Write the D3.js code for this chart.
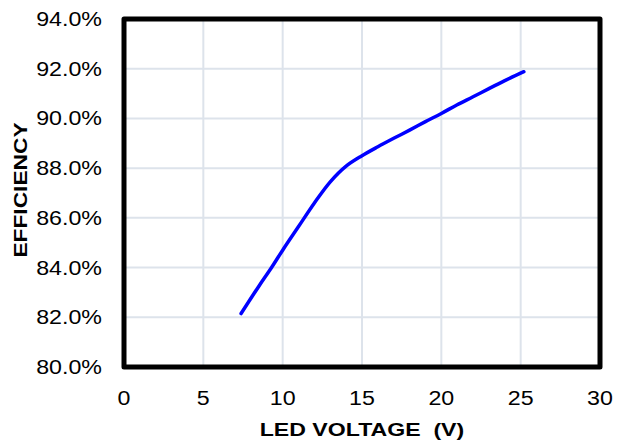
<!DOCTYPE html>
<meta charset="utf-8">
<script src="https://d3js.org/d3.v7.min.js"></script>
<style>
body { margin: 0; background: #fff; }
text { font-family: "Liberation Sans", Arial, sans-serif; fill: #000; }
.grid line { stroke: #dde3eb; stroke-width: 2px; }
.tick-label { font-size: 20px; }
.title { font-size: 17.5px; font-weight: bold; white-space: pre; }
</style>
<body>
<script>
// LED voltage (V) vs efficiency (%)
var voltage = [7.38, 8.5, 9.3, 10, 11, 12, 13, 14, 15, 16, 17, 18, 19, 20, 21, 22, 23, 24, 25.2];
var efficiency = [82.15, 83.25, 84.0, 84.7, 85.65, 86.6, 87.45, 88.08, 88.5, 88.86, 89.2, 89.53, 89.87, 90.2, 90.55, 90.87, 91.2, 91.52, 91.88];

var xTicks = [0, 5, 10, 15, 20, 25, 30];
var yTicks = [80, 82, 84, 86, 88, 90, 92, 94];

var width = 627, height = 446;
var plotL = 124, plotR = 600, plotT = 19, plotB = 367;

var svg = d3.select("body").append("svg")
    .attr("width", width)
    .attr("height", height);

var x = d3.scaleLinear().domain([0, 30]).range([plotL, plotR]);
var y = d3.scaleLinear().domain([80, 94]).range([plotB, plotT]);

// stretch text horizontally a bit like the original
function stretch(sel, f) {
  sel.each(function() {
    var len = this.getComputedTextLength();
    d3.select(this).attr("textLength", len * f).attr("lengthAdjust", "spacingAndGlyphs");
  });
}

// grid
var grid = svg.append("g").attr("class", "grid");
grid.selectAll(".vx").data(xTicks.slice(1, -1)).enter().append("line")
    .attr("x1", d => x(d)).attr("x2", d => x(d))
    .attr("y1", plotT).attr("y2", plotB);
grid.selectAll(".hy").data(yTicks.slice(1, -1)).enter().append("line")
    .attr("y1", d => y(d)).attr("y2", d => y(d))
    .attr("x1", plotL).attr("x2", plotR);

// the curve
var line = d3.line()
    .x(d => x(d[0]))
    .y(d => y(d[1]))
    .curve(d3.curveCatmullRom);

svg.append("path")
    .datum(d3.zip(voltage, efficiency))
    .attr("d", line)
    .attr("fill", "none")
    .attr("stroke", "#0000ff")
    .attr("stroke-width", 3.5)
    .attr("stroke-linecap", "round")
    .attr("stroke-linejoin", "round");

// frame
svg.append("rect")
    .attr("x", plotL).attr("y", plotT)
    .attr("width", plotR - plotL).attr("height", plotB - plotT)
    .attr("fill", "none")
    .attr("stroke", "#000")
    .attr("stroke-width", 5)
    .attr("stroke-linejoin", "round");

// y tick labels
svg.append("g").selectAll("text").data(yTicks).enter().append("text")
    .attr("class", "tick-label")
    .attr("x", plotL - 22)
    .attr("y", d => y(d) + 7)
    .attr("text-anchor", "end")
    .text(d => d.toFixed(1) + "%")
    .call(stretch, 1.16);

// x tick labels
svg.append("g").selectAll("text").data(xTicks).enter().append("text")
    .attr("class", "tick-label")
    .attr("x", d => x(d))
    .attr("y", 405)
    .attr("text-anchor", "middle")
    .text(d => d)
    .call(stretch, 1.16);

// axis titles
svg.append("text")
    .attr("class", "title")
    .attr("x", (plotL + plotR) / 2)
    .attr("y", 436)
    .attr("text-anchor", "middle")
    .text("LED VOLTAGE  (V)")
    .call(stretch, 1.32);

svg.append("text")
    .attr("class", "title")
    .attr("transform", "translate(27," + 190 + ") rotate(-90)")
    .attr("text-anchor", "middle")
    .text("EFFICIENCY")
    .call(stretch, 1.3);
</script>
</body>
